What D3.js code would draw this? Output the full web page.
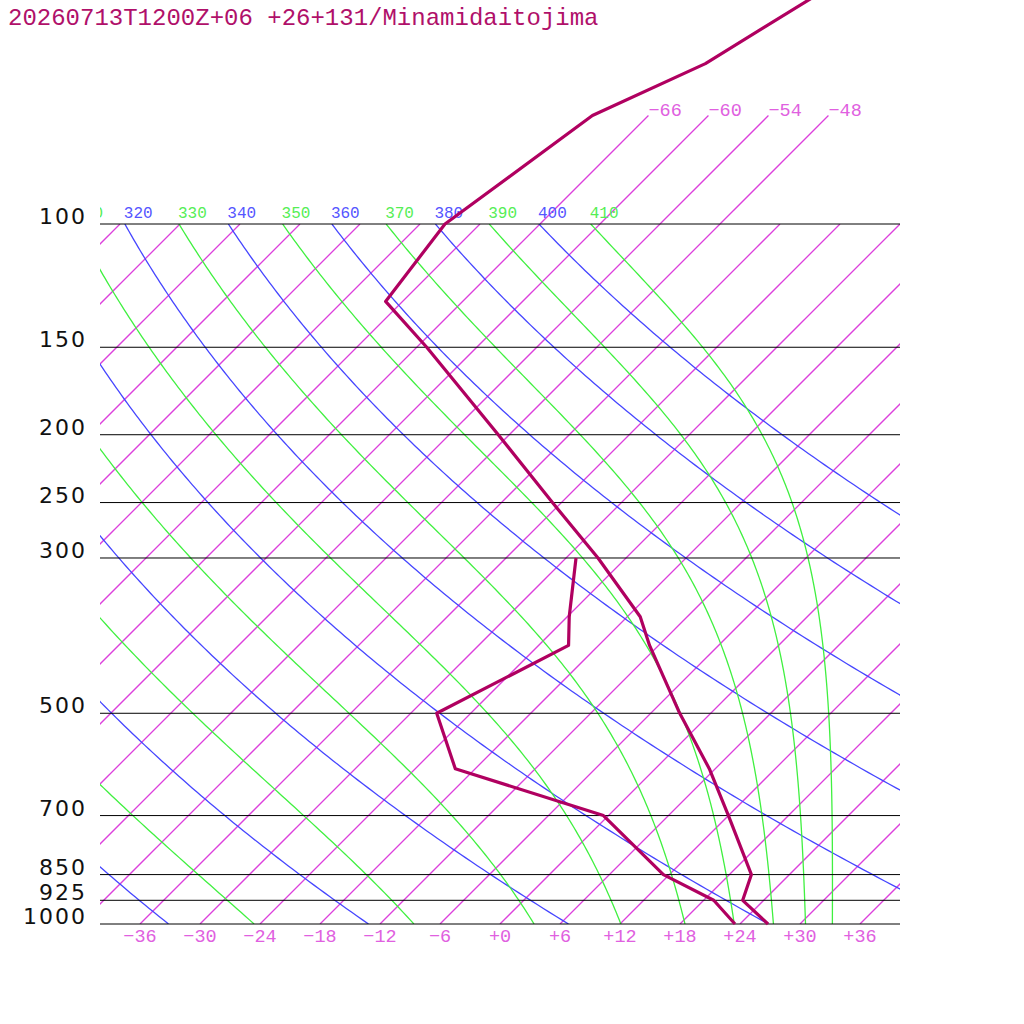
<!DOCTYPE html>
<html>
<head>
<meta charset="utf-8">
<script src="https://cdn.jsdelivr.net/npm/d3@7"></script>
<style>
  body { margin: 0; background: #fff; }
  .grid path { fill: none; }
</style>
</head>
<body>
<svg></svg>
<script>
const title = "20260713T1200Z+06 +26+131/Minamidaitojima";

// temperature profile (hPa, degC)
const tempP = [1000, 925, 850, 700, 600, 500, 400, 364, 300, 250, 200, 150, 129, 100, 70, 59, 30];
const tempC = [26.8, 21.9, 20.2, 12.0, 5.4, -3.1, -12.9, -16.7, -26.8, -36.9, -49.1, -65.0, -73.7, -75.5, -71.6, -65.5, -52.7];

// dewpoint profile (hPa, degC)
const dewP = [1000, 925, 850, 700, 600, 500, 400, 364, 300];
const dewC = [23.5, 19.0, 11.4, -0.5, -20.0, -27.4, -21.0, -23.8, -29.0];

// grid
const isobars = [100, 150, 200, 250, 300, 500, 700, 850, 925, 1000];
const tempTicks = [-36, -30, -24, -18, -12, -6, 0, 6, 12, 18, 24, 30, 36];
const topIsotherms = [-66, -60, -54, -48];
const dryTheta = [240, 260, 280, 300, 320, 340, 360, 380, 400];
const moistTheta = [250, 270, 290, 310, 330, 350, 370, 390, 410];
const dryLabels = [320, 340, 360, 380, 400];
const moistLabels = [310, 330, 350, 370, 390, 410];

/* basic setup */
const width = 1024, height = 1024;
const svg = d3.select("svg").attr("width", width).attr("height", height);

const plotL = 100, plotR = 900, plotT = 224, plotB = 924;

const y = d3.scaleLog().domain([1000, 100]).range([plotB, plotT]);
const xT = d3.scaleLinear().domain([-40, 40]).range([plotL, plotR]);
// skewed x: isotherms lean 45 degrees
const skewX = (t, p) => xT(t) + (plotB - y(p));

const lineTP = d3.line().x(d => skewX(d[0], d[1])).y(d => y(d[1]));

svg.append("clipPath").attr("id", "plot")
  .append("rect").attr("x", plotL).attr("y", plotT).attr("width", plotR - plotL).attr("height", plotB - plotT);
svg.append("clipPath").attr("id", "toplab")
  .append("rect").attr("x", plotL).attr("y", 0).attr("width", plotR - plotL).attr("height", plotT);

const grid = svg.append("g").attr("class", "grid").attr("clip-path", "url(#plot)");
const gridTop = svg.append("g").attr("class", "grid");

// sample pressures from 1000 up to 100
const levels = d3.range(0, 181).map(i => 1000 * Math.pow(10, -i / 180));

/* isotherms */
const isoColor = "#dc40dc";
const isoT = d3.range(-108, 37, 6);
grid.selectAll(".iso").data(isoT).enter().append("path")
  .attr("class", "iso")
  .attr("d", t => lineTP([[t, 1000], [t, 100]]))
  .attr("stroke", isoColor).attr("stroke-width", 1.3);

// isotherms that reach past 100 hPa
gridTop.selectAll(".isoTop").data(topIsotherms).enter().append("path")
  .attr("class", "isoTop")
  .attr("d", t => lineTP([[t, 100], [t, 70]]))
  .attr("stroke", isoColor).attr("stroke-width", 1.3);
svg.selectAll(".isoTopLab").data(topIsotherms).enter().append("text")
  .attr("class", "isoTopLab")
  .attr("x", t => skewX(t, 70)).attr("y", y(70))
  .attr("font-family", "Liberation Mono").attr("font-size", 18.5)
  .attr("fill", "#e060e0")
  .text(t => "\u2212" + Math.abs(t));

/* dry adiabats */
const dryLine = th => levels.map(p => [th * Math.pow(p / 1000, 0.286) - 273.15, p]);
grid.selectAll(".dry").data(dryTheta).enter().append("path")
  .attr("class", "dry")
  .attr("d", th => lineTP(dryLine(th)))
  .attr("stroke", "#4646ff").attr("stroke-width", 1.3);

/* pseudo adiabats (constant theta-e, Bolton) */
function thetaE(tk, p) {
  const tc = tk - 273.15;
  const es = 6.112 * Math.exp(17.67 * tc / (tc + 243.5));
  const r = 622 * es / (p - es);
  const th = tk * Math.pow(1000 / p, 0.2854 * (1 - 0.00028 * r));
  return th * Math.exp((3.376 / tk - 0.00254) * r * (1 + 0.00081 * r));
}
function moistT(te, p) {
  let lo = 150, hi = 330;
  for (let k = 0; k < 50; k++) {
    const mid = (lo + hi) / 2;
    if (thetaE(mid, p) < te) lo = mid; else hi = mid;
  }
  return (lo + hi) / 2 - 273.15;
}
const moistLine = te => levels.map(p => [moistT(te, p), p]);
grid.selectAll(".moist").data(moistTheta).enter().append("path")
  .attr("class", "moist")
  .attr("d", te => lineTP(moistLine(te)))
  .attr("stroke", "#40f040").attr("stroke-width", 1.3);

/* adiabat labels along 100 hPa */
const labs = svg.append("g").attr("clip-path", "url(#toplab)");
labs.selectAll(".dl").data(dryLabels).enter().append("text")
  .attr("class", "dl")
  .attr("x", th => skewX(th * Math.pow(0.1, 0.286) - 273.15, 100) - 1)
  .attr("y", plotT - 6)
  .attr("font-family", "Liberation Mono").attr("font-size", 16)
  .attr("fill", "#5555ff").text(th => th);
labs.selectAll(".ml").data(moistLabels).enter().append("text")
  .attr("class", "ml")
  .attr("x", te => skewX(moistT(te, 100), 100) - 1)
  .attr("y", plotT - 6)
  .attr("font-family", "Liberation Mono").attr("font-size", 16)
  .attr("fill", "#55ee55").text(te => te);

/* isobars */
svg.selectAll(".isobar").data(isobars).enter().append("line")
  .attr("class", "isobar")
  .attr("x1", plotL).attr("x2", plotR)
  .attr("y1", p => y(p)).attr("y2", p => y(p))
  .attr("stroke", "#000").attr("stroke-width", 1);
svg.selectAll(".plab").data(isobars).enter().append("text")
  .attr("class", "plab")
  .attr("x", 87).attr("y", p => y(p))
  .attr("text-anchor", "end")
  .attr("font-family", "DejaVu Sans").attr("font-size", 22)
  .attr("letter-spacing", 2)
  .attr("fill", "#111").text(p => p);

/* temperature axis */
svg.selectAll(".tlab").data(tempTicks).enter().append("text")
  .attr("class", "tlab")
  .attr("x", t => xT(t)).attr("y", 942)
  .attr("text-anchor", "middle")
  .attr("font-family", "Liberation Mono").attr("font-size", 18.5)
  .attr("fill", "#e060e0")
  .text(t => (t < 0 ? "\u2212" : "+") + Math.abs(t));

/* profiles */
const profile = d3.line().x(d => skewX(d[1], d[0])).y(d => y(d[0]));
svg.append("path")
  .attr("d", profile(d3.zip(dewP, dewC)))
  .attr("fill", "none").attr("stroke", "#b00060").attr("stroke-width", 3.2)
  .attr("stroke-linejoin", "round");
svg.append("path")
  .attr("d", profile(d3.zip(tempP, tempC)))
  .attr("fill", "none").attr("stroke", "#b00060").attr("stroke-width", 3.2)
  .attr("stroke-linejoin", "round");

/* title */
svg.append("text")
  .attr("x", 8).attr("y", 25)
  .attr("font-family", "Liberation Mono").attr("font-size", 24)
  .attr("fill", "#b0106a").text(title);
</script>
</body>
</html>
